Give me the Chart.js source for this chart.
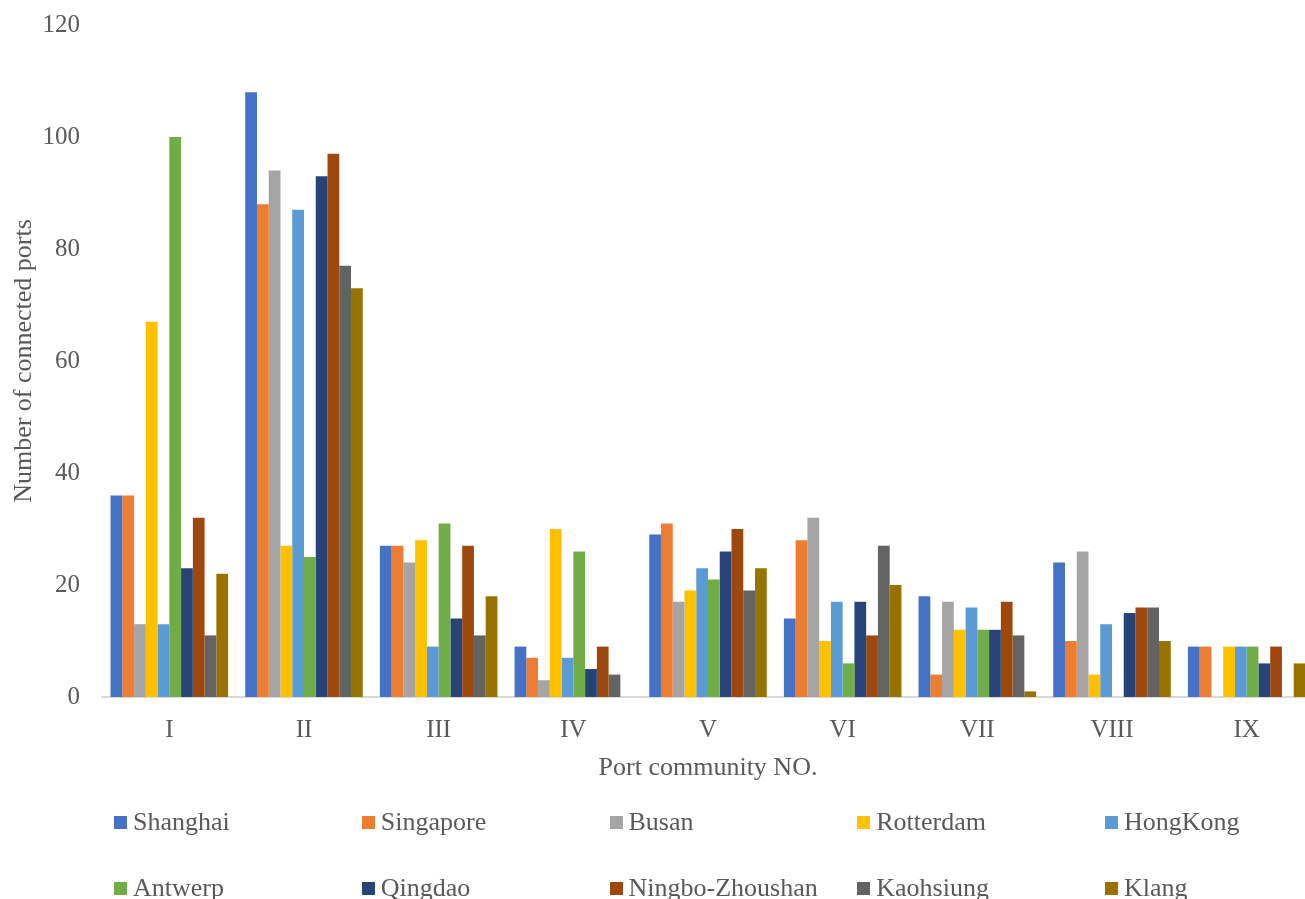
<!DOCTYPE html>
<html>
<head>
<meta charset="utf-8">
<script src="https://cdn.jsdelivr.net/npm/chart.js@4.4.1/dist/chart.umd.min.js"></script>
<style>
  html, body { margin: 0; padding: 0; background: #fff; overflow: hidden; width: 1305px; height: 899px; }
  #wrap { position: relative; width: 1314px; height: 899px; }
  #chart { position: absolute; left: 0; top: 0; }
  #legend { position: absolute; left: 0; top: 0; width: 1314px; height: 899px; pointer-events: none;
            font-family: "Liberation Serif", "Times New Roman", serif; font-size: 26px; color: #595959; }
  .item { position: absolute; display: flex; align-items: center; white-space: nowrap; height: 30px; line-height: 30px; }
  .box { width: 13px; height: 13px; margin-right: 6px; flex: none; }
</style>
</head>
<body>
<div id="wrap">
  <canvas id="chart" width="1314" height="899"></canvas>
  <div id="legend"></div>
</div>
<script>
// Port communities (x categories)
const communities = ['I', 'II', 'III', 'IV', 'V', 'VI', 'VII', 'VIII', 'IX'];

// Number of connected ports per community, one array per hub port
const shanghai  = [36, 108, 27, 9, 29, 14, 18, 24, 9];
const singapore = [36, 88, 27, 7, 31, 28, 4, 10, 9];
const busan     = [13, 94, 24, 3, 17, 32, 17, 26, null];
const rotterdam = [67, 27, 28, 30, 19, 10, 12, 4, 9];
const hongkong  = [13, 87, 9, 7, 23, 17, 16, 13, 9];
const antwerp   = [100, 25, 31, 26, 21, 6, 12, null, 9];
const qingdao   = [23, 93, 14, 5, 26, 17, 12, 15, 6];
const ningbo    = [32, 97, 27, 9, 30, 11, 17, 16, 9];
const kaohsiung = [11, 77, 11, 4, 19, 27, 11, 16, null];
const klang     = [22, 73, 18, null, 23, 20, 1, 10, 6];

const portNames = ['Shanghai', 'Singapore', 'Busan', 'Rotterdam', 'HongKong',
                   'Antwerp', 'Qingdao', 'Ningbo-Zhoushan', 'Kaohsiung', 'Klang'];
const portValues = [shanghai, singapore, busan, rotterdam, hongkong,
                    antwerp, qingdao, ningbo, kaohsiung, klang];
const portColors = ['#4472C4', '#ED7D31', '#A5A5A5', '#FFC000', '#5B9BD5',
                    '#70AD47', '#264478', '#9E480E', '#636363', '#997300'];

// Y axis range
const yMin = 0, yMax = 120, yStep = 20;

const FONT = '"Liberation Serif", "Times New Roman", serif';
const TEXT = '#595959';

const datasets = portNames.map((name, i) => ({
  label: name,
  data: portValues[i],
  backgroundColor: portColors[i],
  borderWidth: 0,
  categoryPercentage: 0.873,
  barPercentage: 1.0
}));

const chart = new Chart(document.getElementById('chart'), {
  type: 'bar',
  data: { labels: communities, datasets },
  options: {
    responsive: false,
    maintainAspectRatio: false,
    animation: false,
    layout: { padding: { left: 0, right: 0, top: 25, bottom: 102 } },
    plugins: { legend: { display: false }, tooltip: { enabled: false } },
    scales: {
      x: {
        grid: { display: false, drawTicks: false },
        border: { display: true, color: '#d9d9d9', width: 2 },
        ticks: { padding: 18, color: TEXT, font: { family: FONT, size: 25 } },
        title: { display: true, text: 'Port community NO.', color: TEXT,
                 font: { family: FONT, size: 26 }, padding: { top: 0, bottom: 13 } },
        afterFit(scale) { scale.height = 100; }
      },
      y: {
        min: yMin, max: yMax,
        grid: { display: false, drawTicks: false },
        border: { display: false },
        ticks: { stepSize: yStep, padding: 22, color: TEXT, font: { family: FONT, size: 25 } },
        title: { display: true, text: 'Number of connected ports', color: TEXT,
                 font: { family: FONT, size: 26 }, padding: { top: 9, bottom: 0 } },
        afterFit(scale) {
          scale.width = 102;
          scale.paddingTop = 0;
          scale.paddingBottom = 0;
        }
      }
    }
  }
});

// Legend laid out as a 5-column grid under the plot
const legend = document.getElementById('legend');
portNames.forEach((name, i) => {
  const col = i % 5, row = Math.floor(i / 5);
  const item = document.createElement('div');
  item.className = 'item';
  item.style.left = (114 + col * 247.75) + 'px';
  item.style.top = (822 + row * 66 - 15) + 'px';
  const box = document.createElement('span');
  box.className = 'box';
  box.style.background = portColors[i];
  const label = document.createElement('span');
  label.textContent = name;
  item.appendChild(box);
  item.appendChild(label);
  legend.appendChild(item);
});
</script>
</body>
</html>
